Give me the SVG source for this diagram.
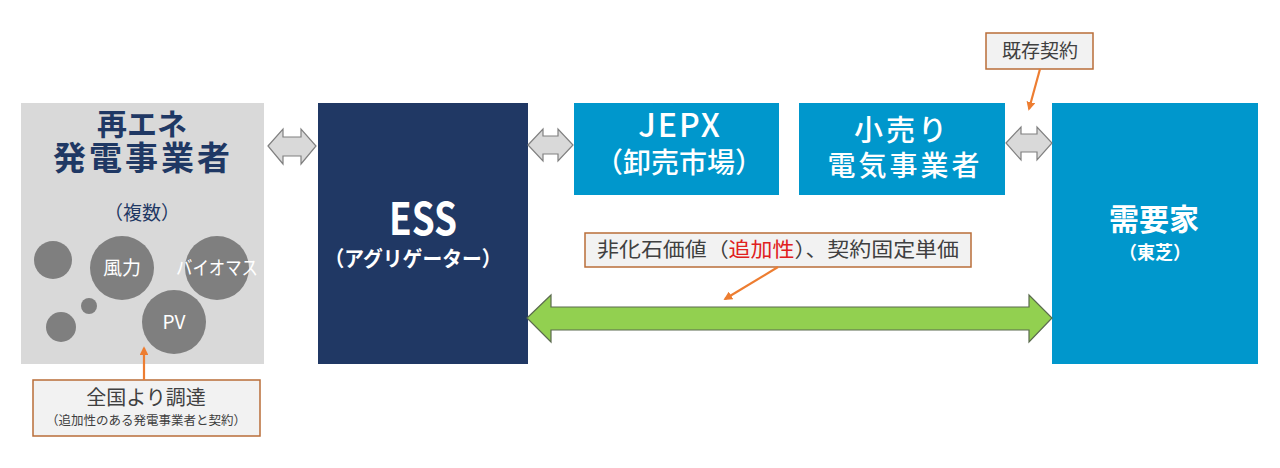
<svg xmlns="http://www.w3.org/2000/svg" width="1280" height="468" viewBox="0 0 1280 468">
<defs>
<style>
text{font-family:"Noto Sans CJK JP","Noto Sans",sans-serif;}
.navy{fill:#1F3864;}
.w{fill:#FFFFFF;}
.lbl{fill:#F2F2F2;stroke:#B96D38;stroke-width:1.5;}
.dark{fill:#404040;}
.circ{fill:#7F7F7F;}
.garr{fill:#D9D9D9;stroke:#808080;stroke-width:1.2;}
.grn{fill:#92D050;stroke:#5B6B4E;stroke-width:1.2;}
.oline{stroke:#ED7D31;stroke-width:2.2;fill:none;}
</style>
<marker id="oh" viewBox="0 0 10 10" refX="8" refY="5" markerWidth="4" markerHeight="4" orient="auto" markerUnits="strokeWidth">
<path d="M0,0 L10,5 L0,10 z" fill="#ED7D31"/>
</marker>
</defs>
<rect width="1280" height="468" fill="#FFFFFF"/>

<g id="renewables">
<rect x="21" y="103" width="243" height="261" fill="#D9D9D9"/>
<text x="142" y="135" font-size="30" font-weight="bold" class="navy" text-anchor="middle">再エネ</text>
<text x="143" y="170" font-size="33" font-weight="bold" class="navy" text-anchor="middle" letter-spacing="3">発電事業者</text>
<text x="142" y="220" font-size="19" class="navy" text-anchor="middle">（複数）</text>
<circle cx="53" cy="260" r="19" class="circ"/>
<circle cx="122" cy="268" r="32" class="circ"/>
<circle cx="217" cy="268" r="32" class="circ"/>
<circle cx="89" cy="306" r="8" class="circ"/>
<circle cx="61" cy="327" r="15" class="circ"/>
<circle cx="174" cy="322" r="32" class="circ"/>
<text x="122" y="275" font-size="19" class="w" text-anchor="middle">風力</text>
<text x="217" y="275" font-size="19" class="w" text-anchor="middle" textLength="82" lengthAdjust="spacingAndGlyphs">バイオマス</text>
<text x="174" y="329" font-size="19" class="w" text-anchor="middle" font-family="'Open Sans',sans-serif">PV</text>
</g>

<g id="ess">
<rect x="318" y="103" width="210" height="261" fill="#203864"/>
<text x="423" y="235" font-size="44" font-weight="bold" class="w" text-anchor="middle" textLength="68" lengthAdjust="spacingAndGlyphs" font-family="'Open Sans',sans-serif">ESS</text>
<text x="413" y="266" font-size="21" font-weight="bold" class="w" text-anchor="middle" textLength="177" lengthAdjust="spacingAndGlyphs">（アグリゲーター）</text>
</g>

<g id="jepx">
<rect x="574" y="103" width="205" height="92" fill="#0097CC"/>
<text x="680" y="137" font-size="32" font-weight="500" class="w" text-anchor="middle" letter-spacing="2" font-family="'Open Sans',sans-serif">JEPX</text>
<text x="679" y="173" font-size="28" font-weight="500" class="w" text-anchor="middle">（卸売市場）</text>
</g>

<g id="retailer">
<rect x="799" y="103" width="206" height="92" fill="#0097CC"/>
<text x="902" y="141" font-size="29" font-weight="500" class="w" text-anchor="middle" letter-spacing="3">小売り</text>
<text x="905" y="176" font-size="28" font-weight="500" class="w" text-anchor="middle" letter-spacing="3">電気事業者</text>
</g>

<g id="consumer">
<rect x="1052" y="103" width="206" height="261" fill="#0097CC"/>
<text x="1154" y="230" font-size="30" font-weight="bold" class="w" text-anchor="middle">需要家</text>
<text x="1155" y="259" font-size="18" font-weight="bold" class="w" text-anchor="middle">（東芝）</text>
</g>

<g id="label-existing">
<rect x="986" y="33" width="107" height="36" class="lbl"/>
<text x="1040" y="58" font-size="19" class="dark" text-anchor="middle">既存契約</text>
</g>

<g id="label-value">
<rect x="585" y="233" width="386" height="34" class="lbl"/>
<text x="778" y="257" font-size="20" class="dark" text-anchor="middle" textLength="362" lengthAdjust="spacingAndGlyphs">非化石価値（<tspan fill="#E02020">追加性</tspan>）、契約固定単価</text>
</g>

<g id="label-procure">
<rect x="33" y="380" width="227" height="56" class="lbl"/>
<text x="146" y="405" font-size="20" class="dark" text-anchor="middle">全国より調達</text>
<text x="146" y="425" font-size="12.5" class="dark" text-anchor="middle">（追加性のある発電事業者と契約）</text>
</g>

<g id="connectors">
<polygon class="garr" points="268,146 283,129 283,137 301,137 301,129 316,146 301,164 301,156 283,156 283,164"/>
<polygon class="garr" points="528,145 543,129 543,136 558,136 558,129 573,145 558,161 558,154 543,154 543,161"/>
<polygon class="garr" points="1006,143 1021,127 1021,134 1037,134 1037,127 1052,143 1037,160 1037,152 1021,152 1021,160"/>
<polygon class="grn" points="527,318 551,295 551,307 1029,307 1029,295 1052,318 1029,342 1029,330 551,330 551,342"/>
<line class="oline" x1="1040" y1="69" x2="1029" y2="109" marker-end="url(#oh)"/>
<line class="oline" x1="778" y1="267" x2="725" y2="299" marker-end="url(#oh)"/>
<line class="oline" x1="144" y1="380" x2="144" y2="348" marker-end="url(#oh)"/>
</g>
</svg>
